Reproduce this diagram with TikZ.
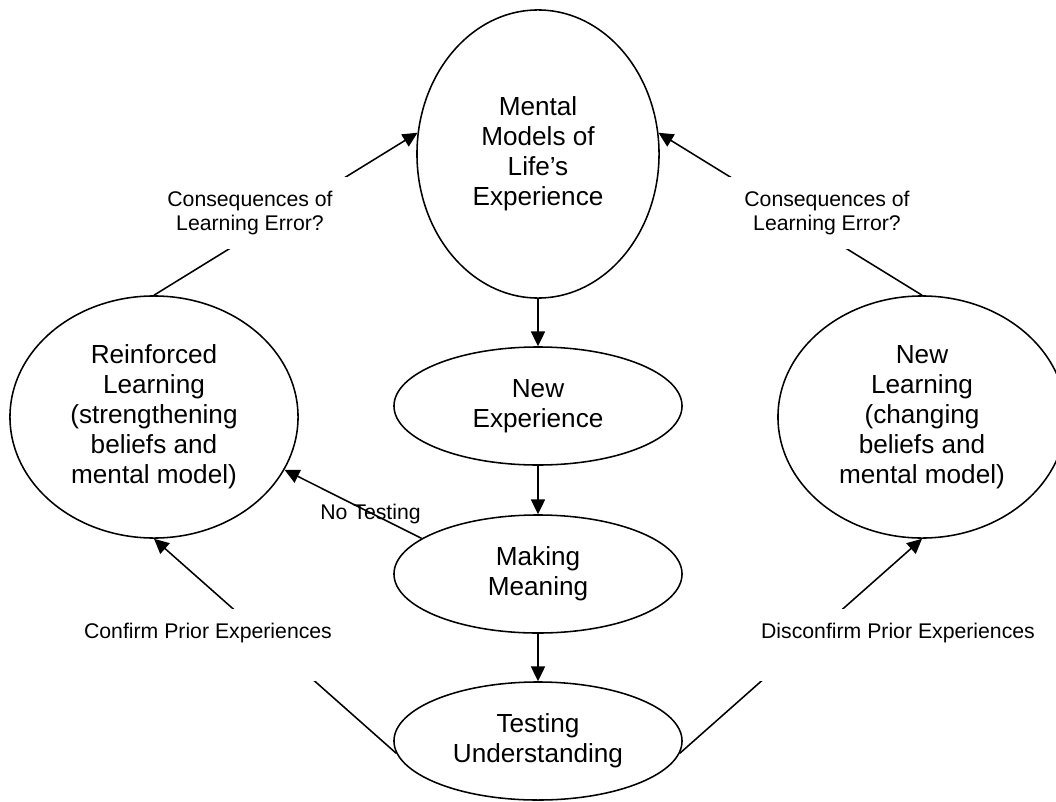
\documentclass[tikz,border=0pt]{standalone}
\usepackage{fontspec}
\setmainfont{Liberation Sans}
\usetikzlibrary{shapes.geometric,arrows.meta}

\begin{document}
\begin{tikzpicture}[x=0.025cm,y=-0.025cm,line width=1.1pt,
        bubble/.style={draw,ellipse,inner sep=0pt,align=center,font=\fontsize{18.6}{21.3}\selectfont},
        tall/.style={bubble,minimum width=6.05cm,minimum height=7.2cm},
        wide/.style={bubble,minimum width=7.2cm,minimum height=6.05cm},
        flat/.style={bubble,minimum width=7.2cm,minimum height=2.95cm},
        note/.style={font=\fontsize{15.1}{17.1}\selectfont},
        gap/.style={note,fill=white,inner xsep=0.4cm,inner ysep=0pt},
        >={Triangle[length=10.5pt,width=10pt]}]
            \useasboundingbox (0,0) rectangle (1056,801);
            \node[tall] at (538,154) (mm) {Mental\\Models of\\Life's\\Experience};
            \node[flat] at (538,406) (ne) {New\\Experience};
            \node[flat] at (538,574) (mk) {Making\\Meaning};
            \node[flat] at (538,741) (tu) {Testing\\Understanding};
            \node[wide] at (154,417) (rl) {Reinforced\\Learning\\(strengthening\\beliefs and\\mental model)};
            \node[wide] at (922,417) (nl) {New\\Learning\\(changing\\beliefs and\\mental model)};
            \draw[->] (mm) to (ne);
            \draw[->] (ne) to (mk);
            \draw[->] (mk) to (tu);
            \draw[->] (rl.north) to (mm.170);
            \draw[->] (nl.north) to (mm.10);
            \draw[->] (mk.163) to (rl.-22);
            \draw[->] (tu.185) to (rl.south);
            \draw[->] (tu.-5) to (nl.south);
            % white boxes break the lines under the labels
            \node[gap,align=center,minimum height=1.8cm] at (250,213) (c1) {Consequences of\\Learning Error?};
            \node[gap,align=center,minimum height=1.8cm] at (827,213) (c2) {Consequences of\\Learning Error?};
            \node[gap,anchor=base,text height=0.725cm,text depth=1.075cm] at (208,638) (cp) {Confirm Prior Experiences};
            \node[gap,anchor=base,text height=0.725cm,text depth=1.075cm] at (898,638) (dp) {Disconfirm Prior Experiences};
            \node[note,anchor=base] at (370.5,519) (nt) {No Testing};
        \end{tikzpicture}
\end{document}
